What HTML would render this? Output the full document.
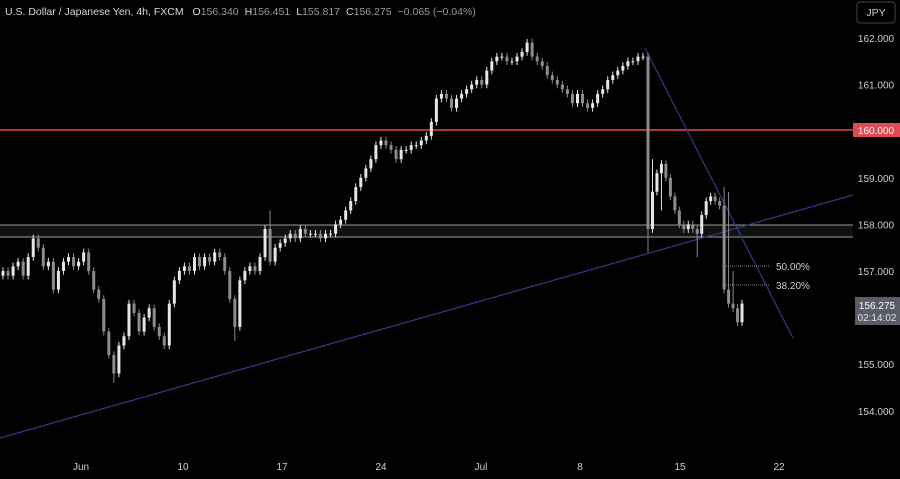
<!DOCTYPE html>
<html><head><meta charset="utf-8"><style>
html,body{margin:0;padding:0;background:#000;width:900px;height:479px;overflow:hidden;font-family:"Liberation Sans",sans-serif}
svg text{font-family:"Liberation Sans",sans-serif}
</style></head><body>
<svg id="chart" width="900" height="479" viewBox="0 0 900 479" xmlns="http://www.w3.org/2000/svg">
<rect x="0" y="0" width="900" height="479" fill="#000"/>
<rect x="0" y="225" width="853" height="12" fill="#111"/>
<line x1="0" y1="225" x2="853" y2="225" stroke="#9a9a9a" stroke-width="1"/>
<line x1="0" y1="237" x2="853" y2="237" stroke="#9a9a9a" stroke-width="1"/>
<line x1="0" y1="130" x2="853" y2="130" stroke="#e04a50" stroke-width="1.5"/>
<line x1="0" y1="438" x2="853" y2="195" stroke="#2f3a8c" stroke-width="1.2"/>
<line x1="645" y1="48" x2="793" y2="338" stroke="#2f3a8c" stroke-width="1.2"/>
<g id="candles"></g>
<line x1="726" y1="266" x2="770" y2="266" stroke="#888" stroke-dasharray="1,1"/>
<text x="776" y="270" fill="#cfcfcf" font-size="10">50.00%</text>
<line x1="726" y1="285" x2="770" y2="285" stroke="#888" stroke-dasharray="1,1"/>
<text x="776" y="289" fill="#cfcfcf" font-size="10">38.20%</text>
<text x="5" y="15" fill="#d8d8d8" font-size="10.5">U.S. Dollar / Japanese Yen, 4h, FXCM <tspan dx="6">O</tspan><tspan fill="#9a9a9a">156.340</tspan><tspan dx="6">H</tspan><tspan fill="#9a9a9a">156.451</tspan><tspan dx="6">L</tspan><tspan fill="#9a9a9a">155.817</tspan><tspan dx="6">C</tspan><tspan fill="#9a9a9a">156.275</tspan><tspan dx="6" fill="#9a9a9a">−0.065 (−0.04%)</tspan></text>
<rect x="857" y="2" width="38" height="21" rx="3" fill="#000" stroke="#444"/>
<text x="876" y="16" fill="#cfcfcf" font-size="10.5" text-anchor="middle">JPY</text>
<g id="yaxis"></g>
<rect x="853" y="123" width="47" height="14" fill="#e04a50"/>
<text x="876" y="134" fill="#fff" font-size="10" text-anchor="middle">160.000</text>
<rect x="855" y="297" width="45" height="28" fill="#5a5d66"/>
<text x="877" y="309" fill="#fff" font-size="10" text-anchor="middle">156.275</text>
<text x="877" y="321" fill="#e0e0e0" font-size="10" text-anchor="middle">02:14:02</text>
<g id="xaxis"></g>
</svg>
<script>
const closes = [157.0,156.9,157.1,157.2,156.9,157.3,157.7,157.5,157.1,157.2,
156.6,157.0,157.2,157.3,157.1,157.2,157.4,157.0,156.6,156.4,
155.7,155.2,154.8,155.4,155.6,156.3,156.1,155.7,156.0,156.2,
155.8,155.6,155.4,156.3,156.8,157.0,157.1,157.0,157.3,157.1,
157.3,157.2,157.4,157.3,157.0,156.4,155.8,156.8,157.0,157.1,
157.0,157.3,157.9,157.2,157.5,157.6,157.7,157.8,157.7,157.9,
157.8,157.8,157.8,157.7,157.8,157.8,158.0,158.1,158.3,158.5,
158.8,159.0,159.2,159.4,159.7,159.8,159.7,159.6,159.4,159.6,
159.6,159.7,159.7,159.8,159.9,160.2,160.7,160.8,160.7,160.5,
160.7,160.8,160.9,161.0,161.1,161.0,161.3,161.5,161.6,161.6,
161.5,161.5,161.6,161.7,161.9,161.6,161.5,161.4,161.2,161.1,
161.0,160.9,160.8,160.6,160.8,160.6,160.5,160.6,160.8,160.9,
161.1,161.2,161.3,161.4,161.5,161.5,161.6,161.6,
157.9,158.7,159.1,159.3,159.0,158.6,158.3,158.0,157.9,158.0,
157.9,157.8,158.2,158.5,158.6,158.5,158.4,156.6,156.3,156.2,155.9,156.3];
const wickLows = {22:154.6,46:155.5,128:157.4,131:158.3,139:157.3,150:155.6,151:155.4};
const wickHighs = {53:158.3,129:159.4,145:158.8,146:158.7,147:157.0};
const yTicks = [162,161,159,158,157,155,154];
const xLabels = ["Jun","10","17","24","Jul","8","15","22"];
const xLabelPos = [81,183,282,381,481,580,680,779];

const NS="http://www.w3.org/2000/svg";
const SPLIT=128;
function yScale(p){return 38+(162-p)*46.6;}
function xScale(i){
  if(i<SPLIT) return 3+i*(643-3)/(SPLIT-1);
  return 648+(i-SPLIT)*(742-648)/(closes.length-1-SPLIT);
}
function mk(t,a){const e=document.createElementNS(NS,t);for(const k in a)e.setAttribute(k,a[k]);return e;}
const cg=document.getElementById('candles');
closes.forEach((c,i)=>{
  const o=i===0?c-0.1:closes[i-1];
  const hi=(i in wickHighs)?wickHighs[i]:Math.max(o,c)+0.08;
  const lo=(i in wickLows)?wickLows[i]:Math.min(o,c)-0.08;
  const up=c>=o, col=up?'#e6e6e6':'#8c8c8c', x=xScale(i);
  const w=mk('line',{x1:x,x2:x,y1:yScale(hi),y2:yScale(lo),stroke:col,'stroke-width':1});
  
  
  cg.appendChild(w);
  const top=yScale(Math.max(o,c)),bot=yScale(Math.min(o,c));
  const b=mk('rect',{x:x-1.5,y:top,width:3,height:Math.max(1,bot-top),fill:col});
  
  
  cg.appendChild(b);
});
const ya=document.getElementById('yaxis');
yTicks.forEach(v=>{
  const t=mk('text',{x:876,y:yScale(v)+4,fill:'#cfcfcf','font-size':10,'text-anchor':'middle'});
  t.textContent=v.toFixed(3);
  
  
  ya.appendChild(t);
});
const xa=document.getElementById('xaxis');
xLabels.forEach((l,i)=>{
  const t=mk('text',{x:xLabelPos[i],y:470,fill:'#cfcfcf','font-size':10,'text-anchor':'middle'});
  t.textContent=l;
  
  
  xa.appendChild(t);
});
</script>
</body></html>
